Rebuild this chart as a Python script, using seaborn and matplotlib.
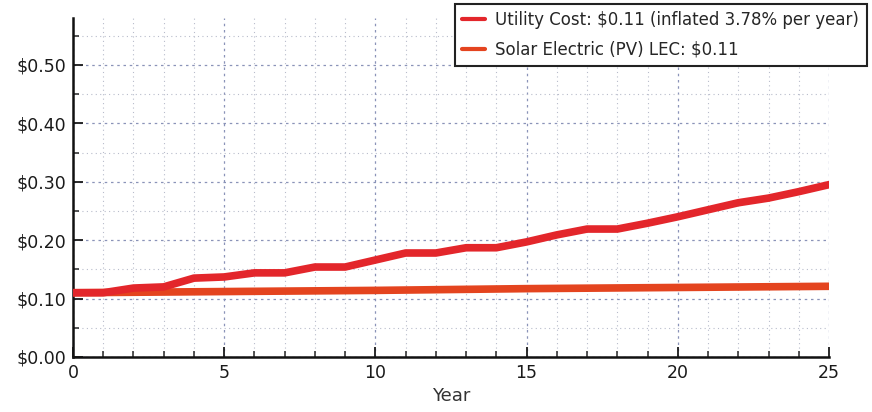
import matplotlib
matplotlib.use("Agg")
import matplotlib.pyplot as plt
from matplotlib.ticker import MultipleLocator, FuncFormatter
import seaborn as sns
import pandas as pd

# values
years = list(range(0, 26))
utility_cost = [0.110, 0.110, 0.118, 0.120, 0.135, 0.137, 0.144, 0.144, 0.154, 0.154,
                0.166, 0.178, 0.178, 0.187, 0.187, 0.197, 0.209, 0.219, 0.219, 0.229,
                0.240, 0.252, 0.264, 0.272, 0.283, 0.295]
solar_years = [0, 5, 10, 15, 20, 25]
solar_lec = [0.110, 0.112, 0.114, 0.117, 0.119, 0.121]

utility_label = r"Utility Cost: \$0.11 (inflated 3.78% per year)"
solar_label = r"Solar Electric (PV) LEC: \$0.11"

sns.set_style("white")
plt.rcParams['font.family'] = ['DejaVu Sans']

fig = plt.figure(figsize=(8.72, 4.12), dpi=100)
ax = fig.add_axes([0.0837, 0.1335, 0.867, 0.8225])

util_df = pd.DataFrame({"Year": years, "Cost": utility_cost})
solar_df = pd.DataFrame({"Year": solar_years, "Cost": solar_lec})

sns.lineplot(data=util_df, x="Year", y="Cost", ax=ax, color="#e3262b",
             linewidth=5.5, label=utility_label, zorder=4)
sns.lineplot(data=solar_df, x="Year", y="Cost", ax=ax, color="#e4441f",
             linewidth=5.5, label=solar_label, zorder=3)

ax.set_xlim(0, 25)
ax.set_ylim(0, 0.58)
ax.xaxis.set_major_locator(MultipleLocator(5))
ax.xaxis.set_minor_locator(MultipleLocator(1))
ax.yaxis.set_major_locator(MultipleLocator(0.1))
ax.yaxis.set_minor_locator(MultipleLocator(0.05))
ax.yaxis.set_major_formatter(FuncFormatter(lambda v, p: f"${v:.2f}"))

ax.grid(which="major", color="#8a93b8", linestyle=(0, (2, 3)), linewidth=0.9)
ax.grid(which="minor", color="#b8bccb", linestyle=(0, (1, 3)), linewidth=0.8)

ax.tick_params(which="major", direction="in", length=7, width=1.3, labelsize=12.5,
               colors="#1a1a1a", left=True, bottom=True, pad=5)
ax.tick_params(which="minor", direction="in", length=4, width=1.1,
               left=True, bottom=True)

for side in ["top", "right"]:
    ax.spines[side].set_visible(False)
for side in ["left", "bottom"]:
    ax.spines[side].set_color("#111111")
    ax.spines[side].set_linewidth(1.8)

ax.set_xlabel("Year", fontsize=13, color="#333333", labelpad=4)
ax.set_ylabel("")

leg = ax.legend(loc="upper right", bbox_to_anchor=(1.05, 1.043), fontsize=12,
                frameon=True, fancybox=False, handlelength=1.4, borderpad=0.45,
                labelspacing=0.7, handletextpad=0.6, borderaxespad=0)
leg.get_frame().set_edgecolor("#222222")
leg.get_frame().set_linewidth(1.5)
leg.get_frame().set_alpha(1)
for line in leg.get_lines():
    line.set_linewidth(3)

fig.savefig("out.png", dpi=100)
